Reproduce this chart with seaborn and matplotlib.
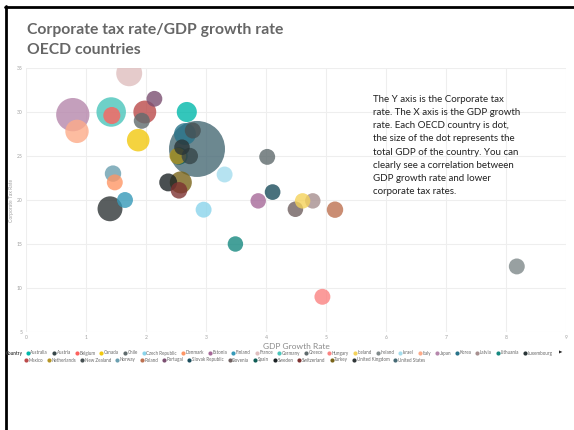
import matplotlib
matplotlib.use("Agg")
import matplotlib.pyplot as plt
from matplotlib.lines import Line2D
import seaborn as sns
import pandas as pd

countries = ["Australia", "Austria", "Belgium", "Canada", "Chile", "Czech Republic",
             "Denmark", "Estonia", "Finland", "France", "Germany", "Greece", "Hungary",
             "Iceland", "Ireland", "Israel", "Italy", "Japan", "Korea", "Latvia",
             "Lithuania", "Luxembourg", "Mexico", "Netherlands", "New Zealand", "Norway",
             "Poland", "Portugal", "Slovak Republic", "Slovenia", "Spain", "Sweden",
             "Switzerland", "Turkey", "United Kingdom", "United States"]
gdp_growth = [2.68, 2.73, 1.43, 1.87, 4.02, 2.96, 1.48, 3.87, 1.65, 1.72, 1.42, 1.93, 4.94,
              4.61, 8.18, 3.31, 0.85, 0.78, 2.65, 4.78, 3.49, 2.60, 1.98, 2.53, 2.78, 1.45,
              5.15, 2.14, 4.11, 4.49, 2.55, 2.37, 2.55, 2.58, 1.40, 2.85]
tax_rate = [30.0, 25.0, 29.6, 26.8, 24.9, 18.9, 22.0, 19.9, 20.0, 34.4, 30.0, 29.0, 9.0,
            19.9, 12.45, 22.9, 27.8, 29.7, 27.5, 19.9, 15.0, 26.0, 30.0, 25.0, 27.9, 23.0,
            18.9, 31.5, 20.9, 18.95, 25.0, 22.0, 21.1, 22.0, 19.0, 25.8]
gdp_total = [1.2, 0.3, 0.45, 1.9, 0.2, 0.2, 0.2, 0.1, 0.2, 3.0, 4.3, 0.22, 0.2,
             0.1, 0.2, 0.2, 2.15, 5.9, 1.7, 0.1, 0.1, 0.12, 2.0, 0.35, 0.22, 0.3,
             0.3, 0.18, 0.15, 0.12, 0.55, 0.65, 0.34, 1.75, 2.65, 19.4]
colors = ["#01B8AA", "#374649", "#FD625E", "#F2C80F", "#5F6B6D", "#8AD4EB", "#FE9666",
          "#A66999", "#3599B8", "#DFBFBF", "#4AC5BB", "#5F6B6D", "#FB8281", "#F4D25A",
          "#7F898A", "#A4DDEE", "#FDAB89", "#B687AC", "#28738A", "#A78F8F", "#168980",
          "#293537", "#BB4A4A", "#B59525", "#475052", "#6A9FB0", "#BD7150", "#7B4F71",
          "#1B4D5C", "#706060", "#0F5C55", "#1C2325", "#7D3231", "#796419", "#303637",
          "#476A75"]
x_ticks = [0, 1, 2, 3, 4, 5, 6, 7, 8, 9]
y_ticks = [5, 10, 15, 20, 25, 30, 35]

title = "Corporate tax rate/GDP growth rate\nOECD countries"
note = ("The Y axis is the Corporate tax\n"
        "rate. The X axis is the GDP growth\n"
        "rate. Each OECD country is dot,\n"
        "the size of the dot represents the\n"
        "total GDP of the country. You can\n"
        "clearly see a correlation between\n"
        "GDP growth rate and lower\n"
        "corporate tax rates.")

sns.set_style("white")
plt.rcParams["font.family"] = ["Lato", "DejaVu Sans"]

W, H = 574, 430
fig = plt.figure(figsize=(W / 100, H / 100), dpi=100)
ax = fig.add_axes([26 / W, 1 - 332 / H, 540 / W, 264 / H])

df = pd.DataFrame({"Country": countries, "GDP Growth Rate": gdp_growth,
                   "Corporate Tax Rate": tax_rate, "GDP": gdp_total})
df = df.sort_values("GDP", ascending=False)
palette = dict(zip(countries, colors))

sns.scatterplot(data=df, x="GDP Growth Rate", y="Corporate Tax Rate", hue="Country",
                size="GDP", sizes=(116, 1625), size_norm=(0, 19.4), palette=palette,
                alpha=0.8, linewidth=0, legend=False, ax=ax, zorder=3)

ax.set_xlim(0, 9)
ax.set_ylim(5, 35)
ax.set_xticks(x_ticks)
ax.set_yticks(y_ticks)
ax.tick_params(axis="both", length=0, labelsize=3.6, labelcolor="#a0a0a0", pad=2.5)
ax.grid(True, color="#eeeeee", linewidth=0.8, zorder=0)
ax.set_axisbelow(True)
for s in ax.spines.values():
    s.set_visible(False)
ax.set_xlabel("GDP Growth Rate", fontsize=6, color="#8a8a8a", labelpad=1.5)
ax.set_ylabel("Corporate Tax Rate", fontsize=3.6, color="#a0a0a0", labelpad=2)

# Title
fig.text(27 / W, 1 - 23 / H, title, fontsize=11.3, fontweight="bold", color="#666666",
         va="top", ha="left", linespacing=1.5)

# Note text
fig.text(373 / W, 1 - 95 / H, note, fontsize=7.0, color="#222222", va="top", ha="left",
         linespacing=1.59)

# Legend rows
def make_handles(names):
    return [Line2D([], [], marker="o", linestyle="", markersize=3.0,
                   markerfacecolor=palette[n], markeredgewidth=0, label=n) for n in names]

row1 = countries[:22]
row2 = countries[22:]
fig.text(6 / W, 1 - 353 / H, "Country", fontsize=3.4, fontweight="bold",
         color="#444444", va="center", ha="left")
leg_kw = dict(frameon=False, fontsize=3.25, handlelength=0.7, handletextpad=0.25,
              columnspacing=0.95, borderpad=0, borderaxespad=0, labelcolor="#666666")
l1 = fig.legend(handles=make_handles(row1), ncol=len(row1), loc="center left",
                bbox_to_anchor=(26 / W, 1 - 353 / H), **leg_kw)
l2 = fig.legend(handles=make_handles(row2), ncol=len(row2), loc="center left",
                bbox_to_anchor=(24 / W, 1 - 360 / H), **leg_kw)
fig.text(561 / W, 1 - 353 / H, "\u25B6", fontsize=3.2, color="#222222",
         va="center", ha="center", family="DejaVu Sans")

# Slide frame
fig.add_artist(Line2D([6 / W, 6 / W], [0, 1 - 6 / H], color="black", linewidth=2.0,
                      transform=fig.transFigure))
fig.add_artist(Line2D([5 / W, 1], [1 - 7 / H, 1 - 7 / H], color="black", linewidth=2.0,
                      transform=fig.transFigure))

fig.savefig("out.png", dpi=100)
